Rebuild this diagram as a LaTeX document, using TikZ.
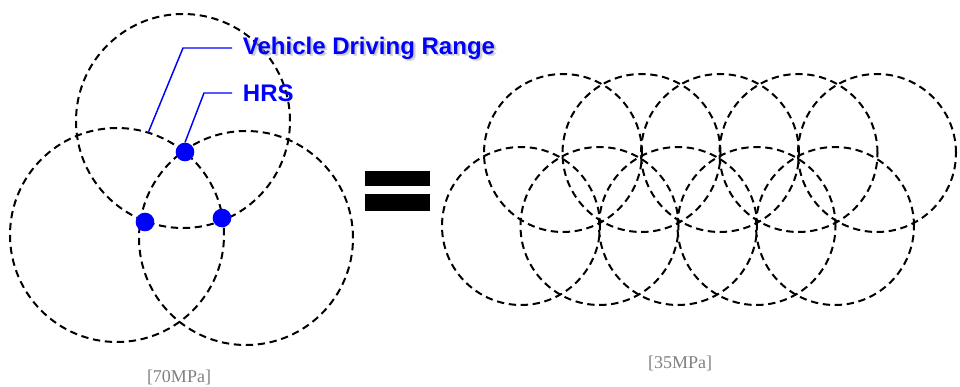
\documentclass[tikz,border=0pt]{standalone}
\usepackage{fontspec}
\setmainfont{Liberation Serif}
\newfontfamily\labelfont{Liberation Sans}
\usetikzlibrary{positioning}
\definecolor{hrsblue}{RGB}{0, 0, 255}

\begin{document}
\begin{tikzpicture}[x=0.75pt, y=0.75pt,
                range/.style={circle, draw=black, line width=1.5pt,
                    dash pattern=on 5.5pt off 3.5pt, inner sep=0pt,
                    minimum size=#1},
                station/.style={circle, fill=hrsblue, inner sep=0pt,
                    minimum size=14pt},
                lead/.style={draw=hrsblue, line width=1.1pt},
                tag/.style={font=\labelfont\bfseries\fontsize{18}{20}\selectfont,
                    text=hrsblue, inner xsep=8pt, inner ysep=0pt, anchor=west},
                glow/.style={tag, text=gray!60, opacity=0.45},
                bar/.style={fill=black},
                press/.style={font=\fontsize{13.5}{15}\selectfont, text=gray}
            ]
            \useasboundingbox (0,0) rectangle (960,386);

            % 70MPa layout
            \node[range=160.5pt] (top) at (183, 265) {};
            \node[range=160.5pt] (left) at (117, 151) {};
            \node[range=160.5pt] (right) at (246, 148) {};

            \node[station] (hrsa) at (185, 234) {};
            \node[station] (hrsb) at (145, 164) {};
            \node[station] (hrsc) at (222, 168) {};

            % Labels with soft shadow
            \foreach \dx/\dy in {1.5/-1.5, 2.5/-2.5}
                \node[glow] at (232+\dx, 338+\dy) {Vehicle Driving Range};
            \node[tag] (vdr) at (232, 338) {Vehicle Driving Range};
            \node[tag] (hrs) at (232, 293) {HRS};

            \draw[lead] (left.73) -- (183, 338) -- (vdr.west);
            \draw[lead] (hrsa.north) -- (204, 293) -- (hrs.west);

            % Equals sign
            \fill[bar] (365, 200) rectangle (430, 215);
            \fill[bar] (365, 175) rectangle (430, 192);

            % 35MPa layout
            \foreach \i in {0,...,4} {
                \node[range=118.5pt] (up\i) at ({563+78.5*\i}, 233) {};
                \node[range=118.5pt] (low\i) at ({521+78.5*\i}, 160) {};
            }

            % Pressure labels
            \node[press] (seventy) at (179, 9) {[70MPa]};
            \node[press] (thirtyfive) at (680, 23) {[35MPa]};

\end{tikzpicture}
\end{document}
